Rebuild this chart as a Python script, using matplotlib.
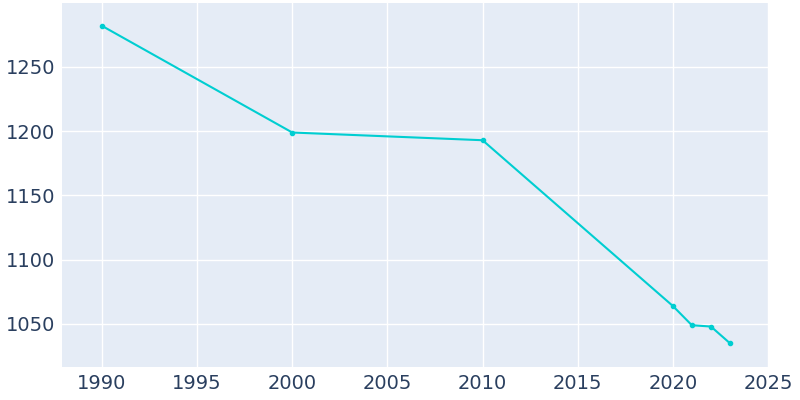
import matplotlib.pyplot as plt

years = [1990, 2000, 2010, 2020, 2021, 2022, 2023]
population = [1282, 1199, 1193, 1064, 1049, 1048, 1035]
x_ticks = [1990, 1995, 2000, 2005, 2010, 2015, 2020, 2025]
y_ticks = [1050, 1100, 1150, 1200, 1250]

fig = plt.figure(figsize=(8, 4), dpi=100)
ax = fig.add_axes([62 / 800, 33 / 400, 706 / 800, 364 / 400])
ax.set_facecolor("#e5ecf6")
ax.plot(years, population, color="#00ced1", linewidth=1.5, marker="o", markersize=3, zorder=3)
ax.set_xlim(1987.9, 2025)
ax.set_ylim(1016.5, 1299.8)
ax.set_xticks(x_ticks)
ax.set_yticks(y_ticks)
ax.grid(color="white", linewidth=1)
ax.set_axisbelow(True)
for s in ax.spines.values():
    s.set_visible(False)
ax.tick_params(length=0, labelsize=14, labelcolor="#2a3f5f", pad=5)
fig.savefig("out.png", dpi=100)
